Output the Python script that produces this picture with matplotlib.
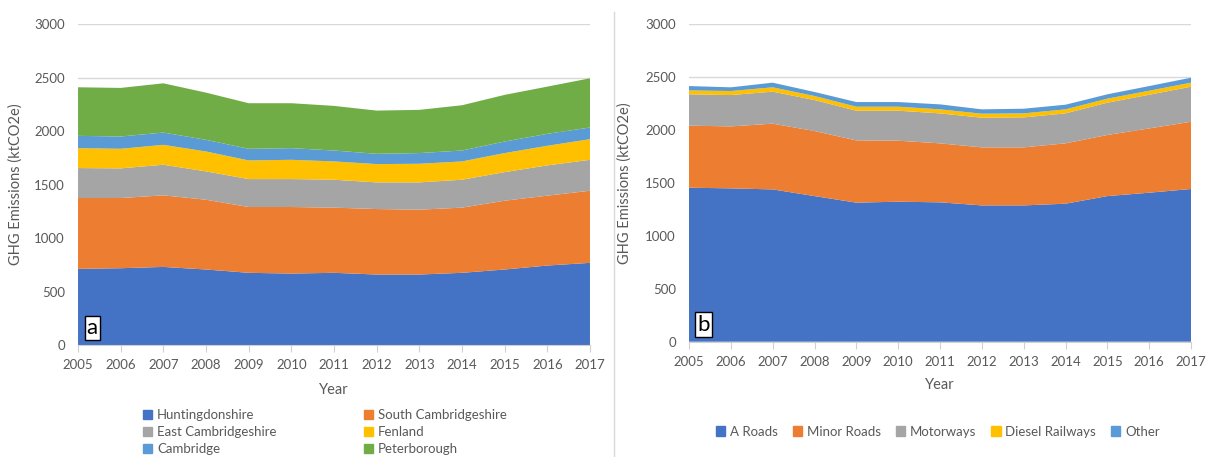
import matplotlib.pyplot as plt
from matplotlib.patches import Patch
from matplotlib.lines import Line2D

plt.rcParams['font.family'] = ['Lato', 'DejaVu Sans']

years = list(range(2005, 2018))

# panel a - districts (ktCO2e)
huntingdonshire = [712, 718, 730, 706, 675, 668, 675, 659, 659, 675, 706, 743, 768]
south_cambs = [662, 656, 669, 652, 615, 622, 609, 612, 606, 609, 643, 653, 674]
east_cambs = [280, 277, 286, 265, 261, 261, 261, 249, 255, 261, 267, 283, 289]
fenland = [186, 183, 186, 186, 174, 180, 171, 171, 174, 171, 178, 183, 193]
cambridge = [115, 115, 115, 109, 109, 109, 102, 96, 100, 102, 108, 112, 109]
peterborough = [454, 454, 460, 441, 426, 420, 417, 404, 404, 423, 436, 441, 460]
labels_a = ['Huntingdonshire', 'South Cambridgeshire', 'East Cambridgeshire',
            'Fenland', 'Cambridge', 'Peterborough']

# panel b - transport type (ktCO2e)
a_roads = [1454, 1448, 1438, 1375, 1313, 1322, 1316, 1287, 1287, 1303, 1375, 1407, 1442]
minor_roads = [586, 585, 621, 614, 588, 576, 557, 548, 548, 570, 577, 607, 635]
motorways = [296, 296, 302, 293, 280, 283, 283, 280, 283, 283, 305, 318, 331]
diesel_rail = [37, 38, 41, 38, 38, 38, 38, 38, 38, 38, 38, 38, 38]
other = [41, 35, 44, 38, 44, 44, 47, 41, 44, 44, 41, 44, 47]
labels_b = ['A Roads', 'Minor Roads', 'Motorways', 'Diesel Railways', 'Other']

colors = ['#4472C4', '#ED7D31', '#A5A5A5', '#FFC000', '#5B9BD5', '#70AD47']
txt = '#595959'

fig = plt.figure(figsize=(12.06, 4.57), dpi=100)
ax1 = fig.add_axes([0.0647, 0.245, 0.4245, 0.7024])
ax2 = fig.add_axes([0.5713, 0.2523, 0.4163, 0.6952])

def style(ax, tag, ylab_x, xlab_y):
    ax.set_xlim(2005, 2017)
    ax.set_ylim(0, 3000)
    ax.set_yticks(range(0, 3001, 500))
    ax.set_xticks(years)
    ax.grid(axis='y', color='#D9D9D9', linewidth=1)
    ax.set_axisbelow(True)
    for s in ['top', 'right', 'left']:
        ax.spines[s].set_visible(False)
    ax.spines['bottom'].set_color('#D0D0D0')
    ax.tick_params(axis='y', length=0, pad=9.5, labelsize=9.5, labelcolor=txt)
    ax.tick_params(axis='x', length=5, color='#D0D0D0', pad=5, labelsize=9.5, labelcolor=txt)
    ax.set_xlabel('Year', fontsize=10.5, color=txt)
    ax.set_ylabel('GHG Emissions (ktCO2e)', fontsize=10.5, color=txt)
    ax.yaxis.set_label_coords(ylab_x, 0.5)
    ax.xaxis.set_label_coords(0.5, xlab_y)
    ax.text(0.017, 0.022, tag, transform=ax.transAxes, fontsize=16, color='black',
            va='bottom', ha='left', zorder=5,
            bbox=dict(boxstyle='square,pad=0.1', fc='white', ec='black', lw=1))

ax1.stackplot(years, huntingdonshire, south_cambs, east_cambs, fenland, cambridge,
              peterborough, colors=colors, labels=labels_a, zorder=2)
style(ax1, 'a', -0.109, -0.118)

ax2.stackplot(years, a_roads, minor_roads, motorways, diesel_rail, other,
              colors=colors[:5], labels=labels_b, zorder=2)
style(ax2, 'b', -0.1135, -0.114)

# legend a: two columns, filled row by row
h_a = [Patch(color=c, label=l) for c, l in zip(colors, labels_a)]
for col, xpos in [(0, 0.1186), (1, 0.3020)]:
    fig.legend(handles=h_a[col::2], loc='upper left', bbox_to_anchor=(xpos, 0.105),
               frameon=False, fontsize=9.5, handlelength=0.7, handleheight=0.7,
               handletextpad=0.35, labelspacing=0.38, borderpad=0,
               borderaxespad=0, labelcolor=txt)

h_b = [Patch(color=c, label=l) for c, l in zip(colors[:5], labels_b)]
fig.legend(handles=h_b, ncol=5, loc='center left', bbox_to_anchor=(0.5937, 0.0554),
           frameon=False, fontsize=9.5, handlelength=0.7, handleheight=0.7,
           handletextpad=0.35, columnspacing=1.15, borderpad=0, borderaxespad=0,
           labelcolor=txt)

fig.add_artist(Line2D([0.509, 0.509], [0.0, 0.973], transform=fig.transFigure,
                      color='#D9D9D9', linewidth=1))

fig.savefig('out.png', dpi=100)
